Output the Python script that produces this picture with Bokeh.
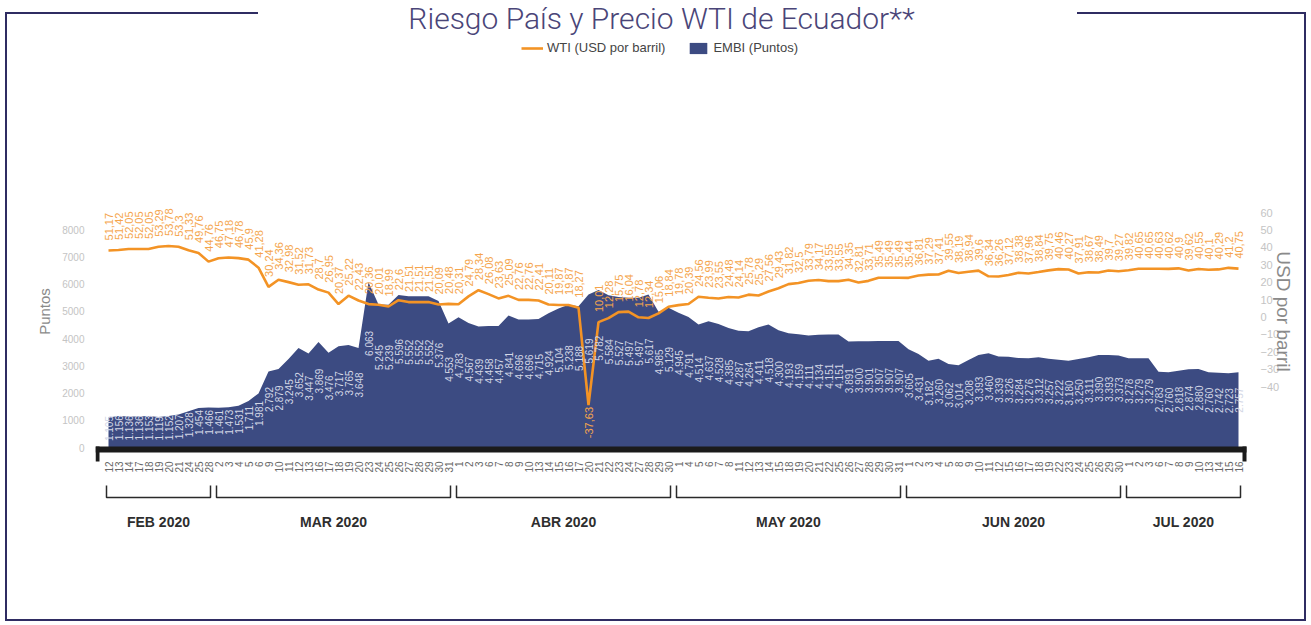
import math
from bokeh.plotting import figure
from bokeh.models import (Range1d, LinearAxis, FixedTicker, Legend, LegendItem,
                          Label, ColumnDataSource)
from bokeh.core.properties import value
from bokeh.embed import file_html
from bokeh.resources import INLINE

# ---------------- data ----------------
MONTHS = ["FEB 2020", "MAR 2020", "ABR 2020", "MAY 2020", "JUN 2020", "JUL 2020"]
DAYS_FEB = [12, 13, 14, 17, 18, 19, 20, 21, 24, 25, 28]
DAYS_MAR = [2, 3, 4, 5, 6, 9, 10, 11, 12, 13, 16, 17, 18, 19, 20, 23, 24, 25, 26, 27, 28, 29, 30, 31]
DAYS_ABR = [1, 2, 3, 6, 7, 8, 9, 10, 13, 14, 15, 16, 17, 20, 21, 22, 23, 24, 27, 28, 29, 30]
DAYS_MAY = [1, 4, 5, 6, 7, 8, 11, 12, 13, 14, 15, 18, 19, 20, 21, 22, 25, 26, 27, 28, 29, 30, 31]
DAYS_JUN = [1, 2, 3, 4, 5, 8, 9, 10, 11, 12, 15, 16, 17, 18, 19, 22, 23, 24, 25, 26, 29, 30]
DAYS_JUL = [1, 2, 3, 6, 7, 8, 9, 10, 13, 14, 15, 16]

EMBI = [1105, 1156, 1136, 1136, 1153, 1119, 1152, 1207, 1328, 1454, 1466,
        1461, 1473, 1531, 1711, 1981, 2792, 2879, 3245, 3652, 3447, 3869, 3476, 3717, 3765, 3648,
        6063, 5245, 5239, 5596, 5552, 5552, 5552, 5376, 4553,
        4783, 4567, 4439, 4458, 4457, 4841, 4696, 4696, 4715, 4924, 5104, 5238, 5188, 5619, 5782,
        5584, 5527, 5497, 5497, 5617, 4985, 5129,
        4945, 4791, 4514, 4637, 4528, 4385, 4287, 4264, 4411, 4518, 4300, 4193, 4159, 4111, 4134,
        4151, 4151, 3891, 3900, 3901, 3907, 3907, 3907,
        3605, 3431, 3182, 3260, 3062, 3014, 3208, 3393, 3460, 3339, 3326, 3284, 3276, 3312, 3257,
        3222, 3180, 3250, 3311, 3390, 3393, 3373,
        3278, 3279, 3279, 2783, 2760, 2818, 2874, 2880, 2760, 2742, 2723, 2757]

WTI = [51.17, 51.42, 52.05, 52.05, 52.05, 53.29, 53.78, 53.3, 51.33, 49.76, 44.76,
       46.75, 47.18, 46.78, 45.9, 41.28, 30.24, 34.36, 32.98, 31.52, 31.73, 28.7, 26.95, 20.37,
       25.22, 22.43, 20.36, 20.01, 18.99, 22.6, 21.51, 21.51, 21.51, 20.09, 20.48,
       20.31, 24.79, 28.34, 26.08, 23.63, 25.09, 22.76, 22.76, 22.41, 20.11, 19.87, 19.87, 18.27,
       -37.63, 10.01, 12.28, 15.75, 16.04, 12.78, 12.34, 15.06, 18.84,
       19.78, 20.39, 24.56, 23.99, 23.55, 24.48, 24.14, 25.78, 25.29, 27.56, 29.43, 31.82, 32.5,
       33.79, 34.17, 33.55, 33.55, 34.35, 32.81, 33.71, 35.49, 35.49, 35.49,
       35.44, 36.81, 37.29, 37.41, 39.55, 38.19, 38.94, 39.6, 36.34, 36.26, 37.12, 38.38, 37.96,
       38.84, 39.75, 40.46, 40.27, 37.91, 38.67, 38.49, 39.7, 39.27,
       39.82, 40.65, 40.65, 40.63, 40.62, 40.9, 39.62, 40.55, 40.1, 40.29, 41.2, 40.75]

EMBI_TICKS = [0, 1000, 2000, 3000, 4000, 5000, 6000, 7000, 8000]
USD_TICKS = [-40, -30, -20, -10, 0, 10, 20, 30, 40, 50, 60]

TITLE = "Riesgo País y Precio WTI de Ecuador**"
LEG_WTI = "WTI (USD por barril)"
LEG_EMBI = "EMBI (Puntos)"

# ---------------- styling / layout ----------------
NAVY = "#3c4b82"
ORANGE = "#f39325"
ORANGE_TXT = "#f5a54c"
BORDER = "#2f2c62"
TITLE_C = "#4a4578"
AX_C = "#c4c4c4"

W, H = 1307, 622
FL, FR, FT, FB = 95, 1250, 0, 622          # frame edges (px)
X0, DX = 108, 10.0                          # x of first date, px per date
EY0, EK = 447, 0.02725                      # EMBI zero line, px per point
UY0, UK = 316.4, 1.74                       # USD axis zero, px per dollar
WTI_SHIFT = 13.0                            # line drawn offset from its axis (as in original)


def ex(cx):
    return (cx - X0) / DX


def ey(cy):
    return (EY0 - cy) / EK


MONTH_DAYS = [DAYS_FEB, DAYS_MAR, DAYS_ABR, DAYS_MAY, DAYS_JUN, DAYS_JUL]
DAYS = [d for m in MONTH_DAYS for d in m]
IDX = list(range(len(DAYS)))


def fmt_wti(v):
    s = f"{v:.2f}".rstrip("0").rstrip(".")
    return s.replace(".", ",")


def fmt_embi(v):
    return f"{v:,}".replace(",", ".")


G = f"linear-gradient({BORDER}, {BORDER})"
p = figure(width=W, height=H, output_backend="svg", toolbar_location=None,
           x_axis_location=None,
           x_range=Range1d(ex(FL), ex(FR)), y_range=Range1d(ey(FB), ey(FT)),
           min_border_left=FL, min_border_right=W - FR,
           min_border_top=FT, min_border_bottom=H - FB,
           styles={
               "background-color": "white",
               "background-image": ", ".join([G] * 5),
               "background-position": "5px 12px, 1077px 12px, 5px 12px, 1304px 12px, 5px 619px",
               "background-size": "253px 2px, 229px 2px, 2px 609px, 2px 609px, 1301px 2px",
               "background-repeat": "no-repeat",
           })
p.extra_y_ranges = {
    "usd": Range1d(-(FB - UY0) / UK, (UY0 - FT) / UK),
    "wti": Range1d(-(FB - UY0) / UK + WTI_SHIFT, (UY0 - FT) / UK + WTI_SHIFT),
}
p.outline_line_color = None
p.grid.visible = False
p.background_fill_alpha = 0
p.border_fill_alpha = 0

src = ColumnDataSource(dict(
    x=IDX, embi=EMBI, wti=WTI,
    embi_txt=[fmt_embi(v) for v in EMBI],
    embi_y=[0.63 * v for v in EMBI],
    day_txt=[str(d) for d in DAYS],
))

area = p.varea(x="x", y1=0, y2="embi", source=src, fill_color=NAVY)
line = p.line(x="x", y="wti", source=src, y_range_name="wti",
              line_color=ORANGE, line_width=2.6)

p.text(x="x", y="embi_y", text="embi_txt", source=src, angle=math.pi / 2,
       text_align="center", text_baseline="middle", text_font_size="10px",
       text_color="#d3d7e6", text_font=value("Liberation Sans"))

pos = [i for i in IDX if WTI[i] >= 0]
neg = [i for i in IDX if WTI[i] < 0]
gap = 10 / UK
src_pos = ColumnDataSource(dict(x=pos, y=[WTI[i] + gap for i in pos],
                                t=[fmt_wti(WTI[i]) for i in pos]))
src_neg = ColumnDataSource(dict(x=neg, y=[WTI[i] - 2 / UK for i in neg],
                                t=[fmt_wti(WTI[i]) for i in neg]))
p.text(x="x", y="y", text="t", source=src_pos, y_range_name="wti", angle=math.pi / 2,
       text_align="left", text_baseline="middle", text_font_size="11px",
       text_color=ORANGE_TXT, text_font=value("Liberation Sans"))
p.text(x="x", y="y", text="t", source=src_neg, y_range_name="wti", angle=math.pi / 2,
       text_align="right", text_baseline="middle", text_font_size="11px",
       text_color=ORANGE_TXT, text_font=value("Liberation Sans"))

# ---- left axis ----
yl = p.yaxis[0]
yl.ticker = FixedTicker(ticks=EMBI_TICKS)
yl.axis_label = "Puntos"
yl.axis_line_color = None
yl.major_tick_line_color = None
yl.minor_tick_line_color = None
yl.major_label_standoff = 5
yl.major_label_text_font_size = "10px"
yl.major_label_text_color = AX_C
yl.major_label_text_font = "Liberation Sans"
yl.axis_label_text_font_size = "15px"
yl.axis_label_text_font_style = "normal"
yl.axis_label_text_color = "#8a8a8a"
yl.axis_label_text_font = "Liberation Sans"
yl.axis_label_standoff = 6

# ---- right axis ----
yr = LinearAxis(y_range_name="usd", ticker=FixedTicker(ticks=USD_TICKS),
                axis_label="USD por barril")
yr.axis_line_color = None
yr.major_tick_line_color = None
yr.minor_tick_line_color = None
yr.major_label_standoff = 4
yr.major_label_text_font_size = "11px"
yr.major_label_text_color = AX_C
yr.major_label_text_font = "Liberation Sans"
yr.axis_label_text_font_size = "19px"
yr.axis_label_text_font_style = "normal"
yr.axis_label_text_color = "#8a8a8a"
yr.axis_label_text_font = "Liberation Sans"
yr.axis_label_standoff = -9
p.add_layout(yr, "right")

# ---- date baseline bar, end caps and day labels ----
p.quad(left=[ex(95)], right=[ex(1246)], top=[ey(446)], bottom=[ey(452)],
       fill_color="#1b1b1b", line_color=None)
p.quad(left=[ex(95), ex(1242)], right=[ex(99), ex(1246)],
       top=[ey(446), ey(446)], bottom=[ey(461), ey(461)],
       fill_color="#1b1b1b", line_color=None)
src_days = ColumnDataSource(dict(x=IDX, y=[ey(461)] * len(IDX), t=[str(d) for d in DAYS]))
p.text(x="x", y="y", text="t", source=src_days, angle=math.pi / 2,
       text_align="right", text_baseline="middle", text_font_size="10px",
       text_color="#666666", text_font=value("Liberation Sans"))

# ---- month brackets and names ----
starts, ends = [], []
k = 0
for m in MONTH_DAYS:
    starts.append(k)
    k += len(m)
    ends.append(k - 1)
bx = [[s - 0.2, s - 0.2, e + 0.2, e + 0.2] for s, e in zip(starts, ends)]
by = [[ey(485), ey(497), ey(497), ey(485)] for _ in starts]
p.multi_line(xs=bx, ys=by, line_color="#2a2a2a", line_width=1.5)
p.text(x=[(s + e) / 2 for s, e in zip(starts, ends)], y=[ey(521)] * len(MONTHS),
       text=MONTHS, text_align="center", text_baseline="middle",
       text_font_size="14px", text_font_style="bold", text_color="#2e2e2e",
       text_font=value("Liberation Sans"))

# ---- title ----
p.add_layout(Label(x=ex(661), y=ey(18), text=TITLE, text_align="center",
                   text_baseline="middle", text_font_size="30px",
                   text_color=TITLE_C, text_font="'Roboto Light', Roboto"))

# ---- legend ----
legend = Legend(items=[LegendItem(label=LEG_WTI, renderers=[line]),
                       LegendItem(label=LEG_EMBI, renderers=[area])],
                location=(521 - FL, FB - 55), orientation="horizontal",
                glyph_width=22, glyph_height=14, label_standoff=4, spacing=22,
                padding=0, margin=0, border_line_color=None,
                background_fill_alpha=0, label_text_font_size="13px",
                label_text_color="#444444", label_text_font="Liberation Sans")
p.add_layout(legend)

open("out.html", "w").write(file_html(p, INLINE))
